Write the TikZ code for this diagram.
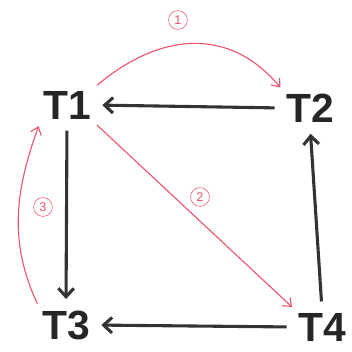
\documentclass[tikz,border=0pt]{standalone}
\usepackage{fontspec}
\setsansfont{Liberation Sans}
\usetikzlibrary{arrows.meta, positioning}
\definecolor{penred}{RGB}{236,84,112}
\tikzset{
    >=Latex,
    sched_task/.style={
        font=\sffamily\bfseries\fontsize{29}{30}\selectfont,
        text=black!85,
        inner sep=2pt
    },
    sched_arrow/.style={
        -{Straight Barb[length=6pt, width=11pt]},
        line width=2.2pt,
        draw=black!80,
        shorten >=6pt,
        shorten <=6pt
    },
    sched_order/.style={
        -{Straight Barb[length=5pt, width=8pt]},
        line width=0.8pt,
        draw=penred,
        shorten >=3pt,
        shorten <=3pt
    },
    sched_num/.style={
        circle,
        draw=penred,
        text=penred,
        font=\sffamily\fontsize{9}{10}\selectfont,
        inner sep=0pt,
        minimum size=0.47cm
    }
}

\begin{document}
\begin{tikzpicture}[x=0.025cm, y=-0.025cm]
\useasboundingbox (0,0) rectangle (352,351);

% Tasks
\node[sched_task] (T1) at (67,105) {T1};
\node[sched_task] (T2) at (310,108) {T2};
\node[sched_task] (T3) at (66,325) {T3};
\node[sched_task] (T4) at (322,327) {T4};

% Step numbers
\node[sched_num] (Step1) at (178,20) {1};
\node[sched_num] (Step2) at (200,197) {2};
\node[sched_num] (Step3) at (43,207) {3};

% Edges
\draw[sched_arrow] (T2.west) -- (T1.east);
\draw[sched_arrow] (T1.south) -- (T3.north);
\draw[sched_arrow] (T4.north) -- (T2.south);
\draw[sched_arrow] (T4.west) -- (T3.east);

% Order of execution
\draw[sched_order] (T1.north east) to[out=40, in=130, looseness=1.15] (T2.north west);
\draw[sched_order] (T1.south east) -- (T4.north west);
\draw[sched_order] (T3.north west) to[out=115, in=-110] (T1.south west);

\end{tikzpicture}
\end{document}
